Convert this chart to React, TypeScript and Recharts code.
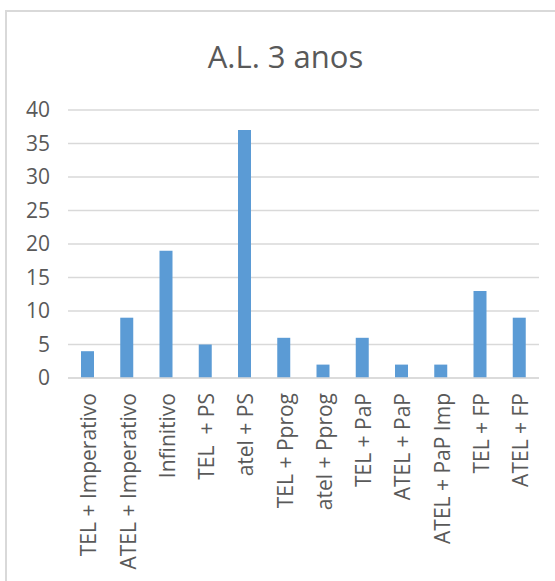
import React from "react";
import { BarChart, Bar, XAxis, YAxis, CartesianGrid } from "recharts";

const categories = [
  "TEL + Imperativo",
  "ATEL + Imperativo",
  "Infinitivo",
  "TEL  + PS",
  "atel + PS",
  "TEL + Pprog",
  "atel + Pprog",
  "TEL + PaP",
  "ATEL + PaP",
  "ATEL + PaP Imp",
  "TEL + FP",
  "ATEL + FP",
];
const counts = [4, 9, 19, 5, 37, 6, 2, 6, 2, 2, 13, 9];
const yTicks = [0, 5, 10, 15, 20, 25, 30, 35, 40];
const title = "A.L. 3 anos";

const data = categories.map((name, i) => ({ name, value: counts[i] }));

const FONT = "'Open Sans', 'Segoe UI', sans-serif";
const TEXT = "#595959";
const GRID = "#d9d9d9";
const BAR = "#5B9BD5";

const CategoryTick = (props: any) => {
  const { x, y, payload } = props;
  return (
    <text
      x={x}
      y={y}
      dy="0.42em"
      transform={`rotate(-90, ${x}, ${y})`}
      textAnchor="end"
      fill={TEXT}
      fontSize={21}
      fontFamily={FONT}
      style={{ whiteSpace: "pre" }}
    >
      {payload.value}
    </text>
  );
};

export default function App() {
  return (
    <div style={{ position: "absolute", left: 0, top: 0, width: 555, height: 581, overflow: "hidden", background: "#fff" }}>
      <div
        style={{
          position: "absolute",
          left: 5,
          top: 10,
          width: 600,
          height: 600,
          borderLeft: `2px solid ${GRID}`,
          borderTop: `2px solid ${GRID}`,
          boxSizing: "border-box",
        }}
      />
      <div
        style={{
          position: "absolute",
          left: 0,
          top: 36,
          width: 571,
          textAlign: "center",
          fontFamily: FONT,
          fontSize: 31,
          color: TEXT,
          lineHeight: "40px",
        }}
      >
        {title}
      </div>
      <div style={{ position: "absolute", left: 0, top: 0 }}>
        <BarChart
          width={555}
          height={581}
          data={data}
          margin={{ top: 110, right: 16, bottom: 3, left: 0 }}
        >
          <CartesianGrid vertical={false} stroke={GRID} strokeWidth={1.5} />
          <XAxis
            dataKey="name"
            interval={0}
            height={200}
            tickLine={false}
            axisLine={{ stroke: GRID, strokeWidth: 1.5 }}
            tickSize={0}
            tickMargin={15}
            tick={<CategoryTick />}
          />
          <YAxis
            domain={[0, 40]}
            ticks={yTicks}
            width={68}
            axisLine={false}
            tickLine={false}
            tickSize={0}
            tickMargin={18}
            tick={{ fill: TEXT, fontSize: 21, fontFamily: FONT }}
          />
          <Bar dataKey="value" fill={BAR} barSize={13} isAnimationActive={false} />
        </BarChart>
      </div>
    </div>
  );
}
